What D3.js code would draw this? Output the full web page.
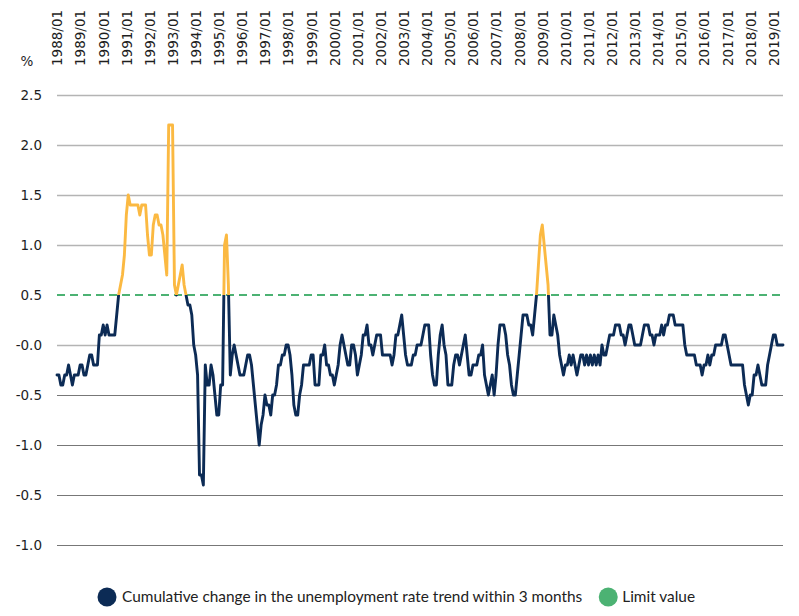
<!DOCTYPE html>
<html><head><meta charset="utf-8">
<script src="https://cdn.jsdelivr.net/npm/d3@7"></script>
<style>body{margin:0;background:#fff} svg{display:block}</style>
</head><body><svg id="c" width="799" height="616"></svg>
<script>
// Monthly values, 1988/01 .. 2019/06 (one row per year)
const values = [
 -0.3,-0.3,-0.4,-0.4,-0.3,-0.3,-0.2,-0.3,-0.4,-0.3,-0.3,-0.3,
 -0.2,-0.2,-0.3,-0.3,-0.2,-0.1,-0.1,-0.2,-0.2,-0.2,0.1,0.1,
 0.2,0.1,0.2,0.1,0.1,0.1,0.1,0.3,0.5,0.6,0.7,0.9,
 1.3,1.5,1.4,1.4,1.4,1.4,1.4,1.3,1.4,1.4,1.4,1.1,
 0.9,0.9,1.2,1.3,1.3,1.2,1.2,1.1,0.9,0.7,2.2,2.2,
 2.2,0.6,0.5,0.6,0.7,0.8,0.6,0.5,0.4,0.4,0.3,0.0,
 -0.1,-0.3,-1.3,-1.3,-1.4,-0.2,-0.4,-0.4,-0.2,-0.3,-0.5,-0.7,
 -0.7,-0.4,-0.4,1.0,1.1,0.6,-0.3,-0.1,0.0,-0.1,-0.2,-0.3,
 -0.3,-0.3,-0.2,-0.1,-0.1,-0.2,-0.4,-0.6,-0.8,-1.0,-0.8,-0.7,
 -0.5,-0.6,-0.6,-0.7,-0.5,-0.5,-0.4,-0.2,-0.2,-0.1,-0.1,0.0,
 0.0,-0.1,-0.3,-0.6,-0.7,-0.7,-0.5,-0.4,-0.2,-0.2,-0.2,-0.2,
 -0.1,-0.1,-0.4,-0.4,-0.4,-0.1,-0.1,0.0,-0.2,-0.2,-0.3,-0.3,
 -0.4,-0.3,-0.2,0.0,0.1,0.0,-0.1,-0.2,-0.2,0.0,0.0,-0.1,
 -0.3,-0.2,-0.1,0.1,0.1,0.2,0.0,0.0,-0.1,0.0,0.1,0.1,
 0.1,-0.1,-0.1,-0.1,-0.1,-0.1,-0.2,-0.1,0.1,0.1,0.2,0.3,
 0.1,-0.1,-0.2,-0.2,-0.2,-0.1,-0.1,0.0,0.0,0.0,0.1,0.2,
 0.2,0.2,-0.1,-0.3,-0.4,-0.4,-0.1,0.1,0.2,0.0,-0.1,-0.4,
 -0.4,-0.4,-0.2,-0.1,-0.1,-0.2,-0.1,0.0,0.1,-0.1,-0.3,-0.3,
 -0.2,-0.2,-0.2,-0.1,-0.1,0.0,-0.3,-0.4,-0.5,-0.4,-0.3,-0.5,
 -0.3,0.0,0.2,0.2,0.2,0.1,-0.1,-0.2,-0.4,-0.5,-0.5,-0.3,
 -0.1,0.1,0.3,0.3,0.3,0.2,0.2,0.1,0.3,0.5,0.8,1.1,
 1.2,1.0,0.8,0.6,0.1,0.1,0.3,0.2,0.1,-0.1,-0.2,-0.3,
 -0.2,-0.2,-0.1,-0.2,-0.1,-0.2,-0.3,-0.2,-0.1,-0.1,-0.2,-0.1,
 -0.2,-0.1,-0.2,-0.1,-0.2,-0.1,-0.2,0.0,-0.1,-0.1,0.0,0.1,
 0.1,0.1,0.2,0.2,0.2,0.1,0.1,0.0,0.1,0.2,0.2,0.1,
 0.0,0.0,0.0,0.0,0.1,0.2,0.2,0.2,0.1,0.1,0.0,0.1,
 0.1,0.1,0.2,0.1,0.2,0.2,0.3,0.3,0.3,0.2,0.2,0.2,
 0.2,0.2,0.0,-0.1,-0.1,-0.1,-0.1,-0.1,-0.2,-0.2,-0.2,-0.3,
 -0.2,-0.2,-0.1,-0.2,-0.1,-0.1,0.0,0.0,0.0,0.0,0.1,0.1,
 0.0,-0.1,-0.2,-0.2,-0.2,-0.2,-0.2,-0.2,-0.2,-0.4,-0.5,-0.6,
 -0.5,-0.5,-0.3,-0.3,-0.2,-0.3,-0.4,-0.4,-0.4,-0.2,-0.1,0.0,
 0.1,0.1,0.0,0.0,0.0,0.0
];
const xTickLabels = ["1988/01","1989/01","1990/01","1991/01","1992/01","1993/01","1994/01","1995/01",
 "1996/01","1997/01","1998/01","1999/01","2000/01","2001/01","2002/01","2003/01","2004/01","2005/01",
 "2006/01","2007/01","2008/01","2009/01","2010/01","2011/01","2012/01","2013/01","2014/01","2015/01",
 "2016/01","2017/01","2018/01","2019/01"];
const yTickValues = [2.5,2.0,1.5,1.0,0.5,0,-0.5,-1.0,-1.5,-2.0];
const yTickLabels = ["2.5","2.0","1.5","1.0","0.5","-0.0","-0.5","-1.0","-0.5","-1.0"];
const limitValue = 0.5;
const unitLabel = "%";
const legendLabels = ["Cumulative change in the unemployment rate trend within 3 months","Limit value"];

(function(){
const NAVY = "#0c2b55", ORANGE = "#fbb942", GREEN = "#4cb273";
const svg = d3.select("#c");
const mLeft = 57, mRight = 783, mTop = 95, mBottom = 545;
const x = d3.scaleLinear().domain([0, values.length - 1]).range([mLeft, mRight]);
const y = d3.scaleLinear().domain([-2, 2.5]).range([mBottom, mTop]);
const tickFont = "DejaVu Sans, Verdana, sans-serif";

// Y axis with gridlines
const gy = svg.append("g").attr("transform", `translate(${mLeft},0)`)
  .call(d3.axisLeft(y).tickValues(yTickValues).tickFormat((d,i)=>yTickLabels[i])
        .tickSize(-(mRight-mLeft)).tickPadding(15));
gy.select(".domain").remove();
gy.selectAll(".tick line")
  .attr("stroke", d => d >= 0 ? "#b4b4b4" : "#777")
  .attr("stroke-width", d => d >= 0 ? 1.4 : 1)
  .attr("stroke-opacity", d => d === limitValue ? 0 : 1);
gy.selectAll(".tick text").attr("font-family",tickFont)
  .attr("font-size", 13.5).attr("fill", "#1e1e1e");

// X axis at top, rotated labels
const gx = svg.append("g").attr("transform", "translate(0,66)")
  .call(d3.axisTop(x).tickValues(d3.range(0, xTickLabels.length*12, 12))
        .tickFormat((d,i)=>xTickLabels[i]).tickSize(0).tickPadding(0));
gx.select(".domain").remove();
gx.selectAll(".tick text").attr("transform","rotate(-90)").attr("x",0).attr("y",0)
  .attr("dy","0.36em").attr("text-anchor","start")
  .attr("font-family",tickFont).attr("font-size",13.5).attr("fill","#1e1e1e");

svg.append("text").attr("x", 27).attr("y", 66).attr("text-anchor","middle")
  .attr("font-family",tickFont).attr("font-size",13.5).attr("fill","#1e1e1e")
  .text(unitLabel);

// Limit line
svg.append("line").attr("x1", mLeft).attr("x2", mRight)
  .attr("y1", y(limitValue)).attr("y2", y(limitValue))
  .attr("stroke", GREEN).attr("stroke-width", 2).attr("stroke-dasharray", "8,5");

// Gradient to colour line above limit
const defs = svg.append("defs");
const grad = defs.append("linearGradient").attr("id","lg")
  .attr("gradientUnits","userSpaceOnUse").attr("x1",0).attr("x2",0).attr("y1",0).attr("y2",616);
const off = y(limitValue)/616;
grad.append("stop").attr("offset",0).attr("stop-color",ORANGE);
grad.append("stop").attr("offset",off).attr("stop-color",ORANGE);
grad.append("stop").attr("offset",off).attr("stop-color",NAVY);
grad.append("stop").attr("offset",1).attr("stop-color",NAVY);

const line = d3.line().x((d,i)=>x(i)).y(d=>y(d));
svg.append("path").datum(values).attr("d", line)
  .attr("fill","none").attr("stroke","url(#lg)").attr("stroke-width",2.9)
  .attr("stroke-linejoin","round").attr("stroke-linecap","round");

// Legend
const lg = svg.append("g");
const ly = 597;
lg.append("circle").attr("cx",107).attr("cy",ly).attr("r",9.5).attr("fill",NAVY);
const t1 = lg.append("text").attr("x",122).attr("y",ly+5).attr("font-family","Lato, sans-serif")
  .attr("font-size",15.4).attr("fill","#222").text(legendLabels[0]);
const end1 = 122 + t1.node().getComputedTextLength();
lg.append("circle").attr("cx",end1+26).attr("cy",ly).attr("r",9.5).attr("fill",GREEN);
lg.append("text").attr("x",end1+40).attr("y",ly+5).attr("font-family","Lato, sans-serif")
  .attr("font-size",15.4).attr("fill","#222").text(legendLabels[1]);
})();
</script></body></html>
